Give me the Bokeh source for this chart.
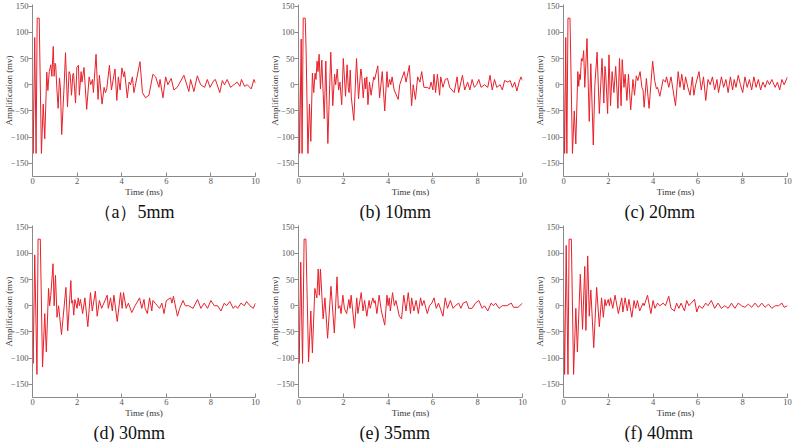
from bokeh.plotting import figure
from bokeh.layouts import column, row
from bokeh.models import Range1d, Title
from bokeh.embed import file_html
from bokeh.resources import INLINE

captions = ["（a）5mm", "(b) 10mm", "(c) 20mm", "(d) 30mm", "(e) 35mm", "(f) 40mm"]
x_ticks = [0, 2, 4, 6, 8, 10]
y_ticks = [-150, -100, -50, 0, 50, 100, 150]
x_label = "Time (ms)"
y_label = "Amplification (mv)"

wave_a = [(0, 22), (0.03, -131), (0.10, 90), (0.16, -131), (0.21, 127), (0.30, 127), (0.40, -131),
          (0.48, -37), (0.55, -103), (0.64, 24), (0.69, -11), (0.75, 25), (0.79, 32), (0.82, 38),
          (0.87, 16), (0.93, 73), (0.97, 16), (1.01, 41), (1.04, 38), (1.09, -6), (1.15, -45),
          (1.21, 13), (1.25, -6), (1.31, -95), (1.42, 0), (1.48, 61), (1.57, -42), (1.64, 25),
          (1.69, 20), (1.75, -20), (1.81, 20), (1.84, 22), (1.93, -35), (1.99, 33), (2.06, 37),
          (2.10, -20), (2.18, 25), (2.22, 5), (2.31, 33), (2.43, -47), (2.54, 15), (2.61, 0),
          (2.69, 10), (2.73, -15), (2.85, 58), (2.94, -28), (3.00, 18), (3.12, -37), (3.21, -5),
          (3.27, -15), (3.33, -8), (3.45, 37), (3.54, -10), (3.70, 30), (3.78, -30), (3.85, 15),
          (3.93, -10), (4.01, 32), (4.09, 15), (4.13, 25), (4.25, -25), (4.33, 5), (4.40, 0),
          (4.48, 15), (4.55, -15), (4.82, 44), (4.93, -15), (5.07, -25), (5.22, -20), (5.40, 20),
          (5.52, 15), (5.67, -5), (5.72, 10), (5.85, -25), (5.97, 15), (6.07, 0), (6.22, 12),
          (6.34, -10), (6.49, -5), (6.79, 18), (7.01, -13), (7.09, 10), (7.24, -13), (7.39, 17),
          (7.54, 0), (7.72, -5), (7.84, 10), (7.96, -5), (8.13, 8), (8.20, 10), (8.40, -15),
          (8.51, 8), (8.61, 0), (8.73, 10), (8.88, -5), (9.03, 0), (9.18, 5), (9.30, -3),
          (9.37, 10), (9.51, -3), (9.63, 0), (9.81, -8), (9.93, 10), (10.0, 3)]

wave_b = [(0, 20), (0.05, -131), (0.12, 87), (0.16, -131), (0.21, 127), (0.30, 127), (0.34, 65),
          (0.42, -131), (0.49, -37), (0.55, -108), (0.62, 22), (0.68, -15), (0.74, 22), (0.78, 10),
          (0.83, 45), (0.87, 25), (0.92, 58), (0.98, -8), (1.04, 47), (1.15, -65), (1.22, 45),
          (1.31, -112), (1.44, 62), (1.53, -40), (1.61, 20), (1.66, 0), (1.73, 30), (1.79, -10),
          (1.85, 5), (1.93, -38), (2.00, 50), (2.10, -22), (2.17, 38), (2.22, -5), (2.26, -15),
          (2.31, 28), (2.36, -25), (2.47, -68), (2.59, 50), (2.68, -27), (2.78, 30), (2.81, 25),
          (2.89, -25), (2.96, 13), (3.00, -8), (3.05, 15), (3.10, -38), (3.17, 5), (3.24, -20),
          (3.36, 15), (3.40, 10), (3.54, 36), (3.62, -25), (3.74, 25), (3.85, -50), (3.95, 25),
          (4.00, -5), (4.07, 10), (4.12, 0), (4.18, 15), (4.27, -10), (4.45, -28), (4.52, 0),
          (4.60, 10), (4.72, 25), (4.80, 5), (4.95, 37), (5.05, -40), (5.12, 0), (5.22, -28),
          (5.32, 15), (5.42, 5), (5.50, 25), (5.60, -5), (5.75, -5), (5.85, -8), (5.92, 5),
          (6.00, -10), (6.05, 20), (6.12, -15), (6.20, 20), (6.30, -20), (6.35, 15), (6.45, -5),
          (6.55, 10), (6.65, 12), (6.75, -5), (6.95, -15), (7.08, 15), (7.15, -15), (7.25, 5),
          (7.32, 18), (7.42, -10), (7.55, 5), (7.65, -10), (7.75, 10), (7.85, -5), (7.95, 0),
          (8.05, 10), (8.15, -5), (8.30, 0), (8.45, -5), (8.55, 18), (8.65, -10), (8.75, 10),
          (8.85, -5), (9.00, 0), (9.10, -10), (9.20, 8), (9.35, 5), (9.45, 8), (9.55, -5),
          (9.65, 5), (9.75, -12), (9.85, 5), (9.93, 15), (10.0, 8)]

wave_c = [(0, 20), (0.05, -131), (0.10, 90), (0.15, -131), (0.20, 127), (0.29, 127), (0.40, -131),
          (0.48, -50), (0.55, -113), (0.64, 25), (0.68, -3), (0.72, 20), (0.75, 10), (0.80, 50),
          (0.85, 45), (0.90, 65), (0.95, -5), (1.05, 88), (1.15, -70), (1.22, 40), (1.33, -115),
          (1.40, 0), (1.50, 62), (1.60, -55), (1.72, 50), (1.80, -35), (1.85, 35), (1.88, 25),
          (1.97, -55), (2.03, 57), (2.10, -40), (2.17, 25), (2.25, -15), (2.33, 35), (2.43, -45),
          (2.50, 50), (2.57, -40), (2.62, 48), (2.70, -5), (2.75, 20), (2.83, -30), (2.90, 20),
          (3.00, -48), (3.10, 10), (3.17, -20), (3.25, 17), (3.32, 8), (3.42, 25), (3.50, -5),
          (3.55, -10), (3.60, -43), (3.70, 12), (3.82, -45), (3.98, 45), (4.07, 8), (4.15, -8),
          (4.20, -5), (4.30, -22), (4.45, 10), (4.55, 5), (4.60, 15), (4.70, -5), (4.80, 15),
          (5.00, -40), (5.12, 25), (5.20, -5), (5.28, 20), (5.38, -10), (5.45, 15), (5.55, -5),
          (5.65, -20), (5.75, 15), (5.82, -20), (5.90, 0), (6.05, 25), (6.15, -10), (6.25, 15),
          (6.35, -30), (6.45, 10), (6.55, 0), (6.65, 15), (6.75, -10), (6.85, 10), (6.92, -15),
          (7.05, 15), (7.15, -5), (7.25, 10), (7.35, -15), (7.45, 15), (7.55, -10), (7.62, 10),
          (7.70, -5), (7.80, 18), (7.90, 0), (8.00, -15), (8.10, 15), (8.20, -5), (8.30, 10),
          (8.40, -10), (8.50, 15), (8.60, -5), (8.70, 10), (8.80, -10), (8.90, 5), (9.00, -5),
          (9.10, 8), (9.20, 0), (9.30, 10), (9.45, -5), (9.55, 5), (9.65, -10), (9.75, 10),
          (9.85, 0), (10.0, 15)]

wave_d = [(0, 15), (0.03, -110), (0.10, 97), (0.20, -131), (0.25, 127), (0.35, 127), (0.45, -117),
          (0.55, -15), (0.62, -88), (0.72, 33), (0.77, 0), (0.82, 20), (0.92, 80), (0.97, 0),
          (1.03, 58), (1.10, -22), (1.17, 0), (1.30, -55), (1.50, 35), (1.58, -48), (1.72, 48),
          (1.76, 5), (1.80, 10), (1.85, -18), (1.90, 12), (2.00, -5), (2.05, 15), (2.10, 0),
          (2.15, 12), (2.25, -15), (2.35, 15), (2.48, -40), (2.60, 25), (2.68, -10), (2.82, 28),
          (2.90, -20), (3.00, 10), (3.10, -5), (3.20, 5), (3.35, 20), (3.40, -5), (3.50, 15),
          (3.58, -10), (3.65, 20), (3.80, -30), (3.95, 25), (4.02, -5), (4.08, 25), (4.20, -5),
          (4.30, 5), (4.45, -13), (4.60, 0), (4.80, 15), (4.90, -5), (5.00, 12), (5.05, -5),
          (5.15, -15), (5.25, 15), (5.35, -10), (5.40, 10), (5.50, 5), (5.60, 0), (5.70, -5),
          (5.80, 5), (5.90, -15), (6.00, 10), (6.20, 15), (6.25, 5), (6.32, 18), (6.50, -20),
          (6.60, -5), (6.75, 10), (6.85, 0), (7.00, 0), (7.20, -5), (7.40, 12), (7.55, -5),
          (7.70, 5), (7.85, -5), (8.00, 10), (8.15, 0), (8.30, 0), (8.45, -10), (8.60, 5),
          (8.70, 0), (8.85, 8), (9.00, -5), (9.10, 0), (9.20, -5), (9.35, 5), (9.50, 0),
          (9.60, 8), (9.75, 0), (9.90, -5), (10.0, 5)]

wave_e = [(0, 18), (0.03, -110), (0.10, 83), (0.18, -110), (0.25, 127), (0.33, 127), (0.45, -107),
          (0.55, -10), (0.62, -90), (0.73, 33), (0.82, 15), (0.88, 70), (0.93, 20), (0.98, 70),
          (1.10, -25), (1.18, 15), (1.30, -62), (1.45, 37), (1.60, -52), (1.72, 55), (1.78, -5),
          (1.85, 0), (1.90, -15), (1.98, 20), (2.05, -5), (2.15, -15), (2.25, 12), (2.30, -5),
          (2.35, 20), (2.50, -43), (2.60, 15), (2.65, -15), (2.80, 25), (2.88, -10), (2.95, 10),
          (3.05, -20), (3.15, 10), (3.20, -5), (3.32, 15), (3.38, 5), (3.42, 10), (3.50, -15),
          (3.60, 20), (3.70, -10), (3.85, -37), (3.95, 20), (4.00, 0), (4.05, 15), (4.10, -10),
          (4.20, 25), (4.28, 0), (4.35, 10), (4.50, -20), (4.60, -25), (4.70, 20), (4.80, -10),
          (4.90, 25), (5.00, -15), (5.05, 15), (5.15, -10), (5.25, 10), (5.35, -15), (5.45, 15),
          (5.52, 0), (5.60, 10), (5.75, -15), (5.85, 0), (5.95, 5), (6.05, 15), (6.15, -5),
          (6.25, 5), (6.45, -20), (6.55, 15), (6.65, -5), (6.78, 10), (6.90, -5), (7.00, 0),
          (7.15, 5), (7.25, -5), (7.35, 5), (7.50, 8), (7.60, -5), (7.75, -5), (7.90, 5),
          (8.05, 10), (8.20, -5), (8.30, 0), (8.45, -10), (8.60, 5), (8.70, 0), (8.80, 5),
          (8.95, -5), (9.10, 0), (9.30, 0), (9.50, 5), (9.60, -3), (9.80, -3), (10.0, 5)]

wave_f = [(0, 20), (0.05, -131), (0.12, 115), (0.20, -131), (0.25, 127), (0.35, 127), (0.45, -131),
          (0.55, -5), (0.62, -88), (0.75, 60), (0.85, -45), (0.95, 75), (1.00, -47), (1.08, 95),
          (1.15, -20), (1.22, 30), (1.35, -80), (1.48, 35), (1.60, -40), (1.70, 15), (1.78, -22),
          (1.85, 12), (1.90, 0), (2.00, 12), (2.05, 0), (2.10, 15), (2.20, -5), (2.30, 20),
          (2.45, -15), (2.60, 15), (2.65, -12), (2.75, 15), (2.85, -10), (2.92, 12), (3.05, -22),
          (3.15, 10), (3.22, -5), (3.30, 10), (3.40, -10), (3.55, 5), (3.60, 0), (3.75, 20),
          (3.90, -15), (4.00, 10), (4.08, -5), (4.20, 5), (4.30, 0), (4.45, 5), (4.55, 0),
          (4.70, 18), (4.80, -5), (4.95, -10), (5.05, 5), (5.15, -5), (5.25, 5), (5.40, -10),
          (5.50, 10), (5.60, 0), (5.70, 5), (5.85, 12), (5.95, -12), (6.05, 0), (6.20, -5),
          (6.35, 5), (6.45, 0), (6.60, 10), (6.75, -5), (6.90, 5), (7.05, -5), (7.20, 0),
          (7.35, -5), (7.50, 5), (7.65, -5), (7.80, 5), (7.95, 0), (8.10, -3), (8.25, 3),
          (8.40, -3), (8.55, 5), (8.70, -3), (8.85, 5), (9.00, -3), (9.15, 3), (9.30, -5),
          (9.45, 0), (9.60, 0), (9.75, 5), (9.85, -3), (10.0, 0)]

waves = [wave_a, wave_b, wave_c, wave_d, wave_e, wave_f]

RED = "#e8202a"
AXIS = "#8a8a8a"
SERIF = "Liberation Serif"
MINUS = "\u2212"
COL_W = [266, 265, 262]
COL_R = [11, 9, 6]
ROW_H = 221


def make_panel(wave, caption, width, right):
    t = [pt[0] for pt in wave]
    v = [pt[1] for pt in wave]
    p = figure(width=width, height=ROW_H, x_range=Range1d(0, 10), y_range=Range1d(-175, 153),
               output_backend="svg", toolbar_location=None,
               min_border_left=0, min_border_right=right, min_border_top=4, min_border_bottom=0)
    p.outline_line_color = None
    p.grid.visible = False
    p.line(t, v, line_color=RED, line_width=1)

    p.xaxis.ticker = x_ticks
    p.yaxis.ticker = y_ticks
    p.yaxis.major_label_overrides = {k: (MINUS + str(-k) if k < 0 else str(k)) for k in y_ticks}
    for ax in (p.xaxis, p.yaxis):
        ax.axis_line_color = AXIS
        ax.major_tick_line_color = AXIS
        ax.minor_tick_line_color = None
        ax.major_label_text_font = SERIF
        ax.major_label_text_font_size = "8.5px"
        ax.major_label_text_color = "#555555"
        ax.axis_label_text_font = SERIF
        ax.axis_label_text_font_size = "9px"
        ax.axis_label_text_font_style = "normal"
        ax.axis_label_text_color = "#333333"
        ax.major_label_standoff = 1
        ax.axis_label_standoff = 1
    p.xaxis.axis_label_standoff = 0
    p.yaxis.axis_label_standoff = -6
    p.yaxis.major_label_standoff = 0
    p.xaxis.major_tick_in = 4
    p.xaxis.major_tick_out = 0
    p.yaxis.major_tick_in = 0
    p.yaxis.major_tick_out = 4
    p.xaxis.axis_label = x_label
    p.yaxis.axis_label = y_label

    off = 61 if caption.startswith("（") else 61
    p.add_layout(Title(text=caption, align="left", offset=off, text_font=SERIF,
                       text_font_size="18px", text_font_style="normal",
                       text_color="#111111", standoff=0), "below")
    return p


panels = [make_panel(w, c, COL_W[i % 3], COL_R[i % 3]) for i, (w, c) in enumerate(zip(waves, captions))]
layout = column(row(*panels[:3]), row(*panels[3:]))

open("out.html", "w").write(file_html(layout, INLINE))
